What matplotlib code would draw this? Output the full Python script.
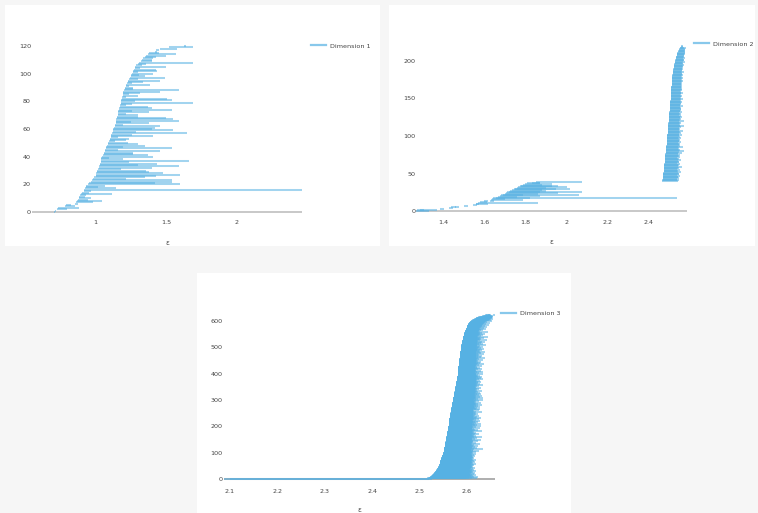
import matplotlib
matplotlib.use('Agg')
import matplotlib.pyplot as plt
from matplotlib.patches import Rectangle
from matplotlib.lines import Line2D

# ---------------- data ----------------
dim1_birth = [0.710, 0.715, 0.735, 0.740, 0.790, 0.795, 0.860, 0.865, 0.870, 0.880,
              0.885, 0.890, 0.895, 0.900, 0.905, 0.920, 0.925, 0.930, 0.935, 0.940,
              0.950, 0.960, 0.970, 0.980, 0.985, 0.990, 1.005, 1.010, 1.010, 1.015,
              1.015, 1.020, 1.030, 1.030, 1.035, 1.035, 1.040, 1.040, 1.045, 1.045,
              1.050, 1.055, 1.060, 1.060, 1.070, 1.070, 1.075, 1.080, 1.085, 1.090,
              1.095, 1.100, 1.105, 1.105, 1.110, 1.110, 1.115, 1.120, 1.125, 1.130,
              1.130, 1.135, 1.140, 1.140, 1.145, 1.145, 1.150, 1.150, 1.155, 1.155,
              1.160, 1.160, 1.165, 1.165, 1.170, 1.170, 1.175, 1.175, 1.180, 1.180,
              1.185, 1.185, 1.190, 1.190, 1.195, 1.195, 1.200, 1.200, 1.205, 1.210,
              1.210, 1.215, 1.220, 1.225, 1.230, 1.235, 1.240, 1.245, 1.250, 1.255,
              1.260, 1.265, 1.270, 1.275, 1.280, 1.285, 1.290, 1.300, 1.310, 1.325,
              1.330, 1.340, 1.355, 1.360, 1.375, 1.380, 1.420, 1.430, 1.460, 1.520,
              1.630]
dim1_death = [0.720, 0.725, 0.800, 0.885, 0.860, 0.830, 0.880, 0.985, 1.050, 0.950,
              0.970, 0.930, 0.940, 1.120, 0.960, 0.970, 2.460, 1.150, 1.020, 1.070,
              1.600, 1.420, 1.540, 1.540, 1.220, 1.350, 1.430, 1.600, 1.480, 1.380,
              1.360, 1.180, 1.400, 1.590, 1.300, 1.440, 1.240, 1.660, 1.200, 1.100,
              1.410, 1.370, 1.270, 1.270, 1.460, 1.160, 1.540, 1.200, 1.350, 1.300,
              1.230, 1.140, 1.220, 1.240, 1.160, 1.410, 1.260, 1.645, 1.290, 1.550,
              1.400, 1.420, 1.460, 1.200, 1.380, 1.250, 1.590, 1.550, 1.500, 1.300,
              1.300, 1.220, 1.380, 1.260, 1.540, 1.400, 1.370, 1.220, 1.260, 1.690,
              1.280, 1.540, 1.510, 1.220, 1.300, 1.240, 1.320, 1.460, 1.590, 1.270,
              1.270, 1.240, 1.390, 1.260, 1.340, 1.460, 1.300, 1.490, 1.350, 1.310,
              1.410, 1.300, 1.440, 1.430, 1.320, 1.500, 1.330, 1.360, 1.690, 1.400,
              1.400, 1.410, 1.430, 1.500, 1.570, 1.450, 1.440, 1.450, 1.580, 1.690,
              1.640]

dim2_birth = [1.270, 1.275, 1.290, 1.385, 1.430, 1.440, 1.460, 1.500, 1.545, 1.560,
              1.560, 1.570, 1.580, 1.600, 1.630, 1.635, 1.640, 1.645, 1.655, 1.665,
              1.675, 1.680, 1.690, 1.700, 1.705, 1.710, 1.720, 1.725, 1.735, 1.745,
              1.750, 1.760, 1.765, 1.775, 1.780, 1.790, 1.800, 1.810, 1.830, 1.850,
              2.465, 2.465, 2.466, 2.466, 2.467, 2.467, 2.468, 2.468, 2.469, 2.469,
              2.470, 2.470, 2.471, 2.471, 2.472, 2.472, 2.472, 2.473, 2.473, 2.474,
              2.474, 2.474, 2.475, 2.475, 2.476, 2.476, 2.476, 2.477, 2.477, 2.478,
              2.478, 2.478, 2.479, 2.479, 2.480, 2.480, 2.480, 2.481, 2.481, 2.482,
              2.482, 2.482, 2.483, 2.483, 2.483, 2.484, 2.484, 2.484, 2.485, 2.485,
              2.485, 2.486, 2.486, 2.486, 2.487, 2.487, 2.487, 2.488, 2.488, 2.488,
              2.489, 2.489, 2.489, 2.490, 2.490, 2.490, 2.491, 2.491, 2.491, 2.492,
              2.492, 2.492, 2.493, 2.493, 2.493, 2.494, 2.494, 2.494, 2.495, 2.495,
              2.495, 2.496, 2.496, 2.496, 2.497, 2.497, 2.497, 2.498, 2.498, 2.498,
              2.499, 2.499, 2.499, 2.500, 2.500, 2.500, 2.501, 2.501, 2.501, 2.502,
              2.502, 2.502, 2.503, 2.503, 2.503, 2.504, 2.504, 2.504, 2.505, 2.505,
              2.505, 2.505, 2.506, 2.506, 2.506, 2.507, 2.507, 2.507, 2.507, 2.508,
              2.508, 2.508, 2.508, 2.509, 2.509, 2.509, 2.509, 2.510, 2.510, 2.510,
              2.510, 2.511, 2.511, 2.511, 2.512, 2.512, 2.512, 2.513, 2.513, 2.513,
              2.514, 2.514, 2.515, 2.515, 2.516, 2.516, 2.517, 2.517, 2.518, 2.518,
              2.519, 2.519, 2.520, 2.520, 2.521, 2.522, 2.523, 2.524, 2.525, 2.526,
              2.527, 2.528, 2.529, 2.530, 2.531, 2.532, 2.533, 2.534, 2.535, 2.536,
              2.537, 2.538, 2.540, 2.542, 2.544, 2.546, 2.548, 2.550, 2.552, 2.554,
              2.556]
dim2_death = [1.330, 1.370, 1.310, 1.405, 1.450, 1.465, 1.480, 1.520, 1.565, 1.575,
              1.620, 1.860, 1.615, 1.620, 1.650, 1.790, 1.700, 2.535, 1.820, 1.760,
              1.870, 1.790, 2.060, 1.860, 1.960, 1.870, 2.075, 1.900, 1.880, 1.950,
              2.015, 1.900, 2.000, 1.930, 1.960, 1.880, 1.930, 1.870, 1.870, 2.075,
              2.540, 2.538, 2.545, 2.536, 2.548, 2.541, 2.539, 2.550, 2.537, 2.544,
              2.546, 2.540, 2.553, 2.538, 2.543, 2.549, 2.536, 2.547, 2.541, 2.560,
              2.539, 2.545, 2.542, 2.551, 2.537, 2.548, 2.544, 2.540, 2.556, 2.543,
              2.547, 2.538, 2.552, 2.545, 2.541, 2.549, 2.543, 2.558, 2.540, 2.546,
              2.568, 2.544, 2.550, 2.541, 2.547, 2.565, 2.543, 2.549, 2.545, 2.552,
              2.546, 2.542, 2.555, 2.548, 2.544, 2.551, 2.547, 2.543, 2.557, 2.549,
              2.545, 2.562, 2.548, 2.544, 2.553, 2.546, 2.550, 2.566, 2.547, 2.552,
              2.548, 2.545, 2.556, 2.549, 2.568, 2.551, 2.547, 2.554, 2.550, 2.546,
              2.569, 2.552, 2.548, 2.555, 2.550, 2.558, 2.549, 2.553, 2.547, 2.556,
              2.551, 2.548, 2.560, 2.552, 2.549, 2.557, 2.553, 2.550, 2.555, 2.551,
              2.563, 2.552, 2.549, 2.556, 2.553, 2.559, 2.551, 2.554, 2.550, 2.565,
              2.553, 2.550, 2.557, 2.554, 2.561, 2.552, 2.556, 2.553, 2.567, 2.555,
              2.552, 2.558, 2.554, 2.560, 2.556, 2.553, 2.562, 2.555, 2.559, 2.557,
              2.554, 2.561, 2.556, 2.564, 2.558, 2.555, 2.560, 2.557, 2.563, 2.559,
              2.556, 2.566, 2.558, 2.562, 2.560, 2.557, 2.568, 2.561, 2.559, 2.565,
              2.562, 2.560, 2.567, 2.563, 2.561, 2.570, 2.564, 2.562, 2.566, 2.575,
              2.565, 2.568, 2.571, 2.566, 2.573, 2.569, 2.567, 2.572, 2.570, 2.574,
              2.571, 2.576, 2.573, 2.575, 2.572, 2.577, 2.574, 2.580, 2.570, 2.565,
              2.566]

dim3_birth = [
    2.088, 2.100,
    2.516, 2.518, 2.519, 2.520, 2.521, 2.522, 2.523, 2.524,
    2.525, 2.526, 2.526, 2.527, 2.527, 2.528, 2.528, 2.529, 2.529, 2.530, 2.530, 2.531, 2.531, 2.532, 2.532,
    2.533, 2.533, 2.533, 2.534, 2.534, 2.534, 2.535, 2.535, 2.535, 2.536, 2.536, 2.536, 2.537,
    2.537, 2.537, 2.538, 2.538, 2.538, 2.539, 2.539, 2.539, 2.540, 2.540, 2.540, 2.540,
    2.541, 2.541, 2.541, 2.541, 2.541, 2.542, 2.542, 2.542, 2.542, 2.542,
    2.543, 2.543, 2.543, 2.543, 2.543, 2.544, 2.544, 2.544, 2.544, 2.544,
    2.545, 2.545, 2.545, 2.545, 2.545, 2.546, 2.546, 2.546, 2.546, 2.546,
    2.547, 2.547, 2.547, 2.547, 2.547, 2.548, 2.548, 2.548, 2.548, 2.548,
    2.549, 2.549, 2.549, 2.549, 2.549, 2.550, 2.550, 2.550, 2.550, 2.550,
    2.551, 2.551, 2.551, 2.551, 2.551, 2.551, 2.551, 2.551, 2.551, 2.551,
    2.552, 2.552, 2.552, 2.552, 2.552, 2.552, 2.552, 2.552, 2.552, 2.552,
    2.553, 2.553, 2.553, 2.553, 2.553, 2.553, 2.553, 2.553, 2.553, 2.553,
    2.554, 2.554, 2.554, 2.554, 2.554, 2.554, 2.554, 2.554, 2.554, 2.554,
    2.555, 2.555, 2.555, 2.555, 2.555, 2.555, 2.555, 2.555, 2.555, 2.555,
    2.556, 2.556, 2.556, 2.556, 2.556, 2.556, 2.556, 2.556, 2.556, 2.556,
    2.557, 2.557, 2.557, 2.557, 2.557, 2.557, 2.557, 2.557, 2.557, 2.557,
    2.558, 2.558, 2.558, 2.558, 2.558, 2.558, 2.558, 2.558, 2.558, 2.558,
    2.559, 2.559, 2.559, 2.559, 2.559, 2.559, 2.559, 2.559, 2.559, 2.559,
    2.560, 2.560, 2.560, 2.560, 2.560, 2.560, 2.560, 2.560, 2.560, 2.560,
    2.561, 2.561, 2.561, 2.561, 2.561, 2.561, 2.561, 2.561, 2.561, 2.561,
    2.562, 2.562, 2.562, 2.562, 2.562, 2.562, 2.562, 2.562, 2.562, 2.562,
    2.563, 2.563, 2.563, 2.563, 2.563, 2.563, 2.563, 2.563, 2.563, 2.563,
    2.564, 2.564, 2.564, 2.564, 2.564, 2.564, 2.564, 2.564, 2.564, 2.564,
    2.565, 2.565, 2.565, 2.565, 2.565, 2.565, 2.565, 2.565, 2.565, 2.565,
    2.566, 2.566, 2.566, 2.566, 2.566, 2.566, 2.566, 2.566, 2.566, 2.566,
    2.567, 2.567, 2.567, 2.567, 2.567, 2.567, 2.567, 2.567, 2.567, 2.567,
    2.568, 2.568, 2.568, 2.568, 2.568, 2.568, 2.568, 2.568, 2.568, 2.568,
    2.569, 2.569, 2.569, 2.569, 2.569, 2.569, 2.569, 2.569, 2.569, 2.569,
    2.570, 2.570, 2.570, 2.570, 2.570, 2.570, 2.570, 2.570, 2.570, 2.570,
    2.571, 2.571, 2.571, 2.571, 2.571, 2.571, 2.571, 2.571, 2.571, 2.571,
    2.572, 2.572, 2.572, 2.572, 2.572, 2.572, 2.572, 2.572, 2.572, 2.572,
    2.573, 2.573, 2.573, 2.573, 2.573, 2.573, 2.573, 2.573, 2.573, 2.573,
    2.574, 2.574, 2.574, 2.574, 2.574, 2.574, 2.574, 2.574, 2.574, 2.574,
    2.575, 2.575, 2.575, 2.575, 2.575, 2.575, 2.575, 2.575, 2.575, 2.575,
    2.576, 2.576, 2.576, 2.576, 2.576, 2.576, 2.576, 2.576, 2.576, 2.576,
    2.577, 2.577, 2.577, 2.577, 2.577, 2.577, 2.577, 2.577, 2.577, 2.577,
    2.578, 2.578, 2.578, 2.578, 2.578, 2.578, 2.578, 2.578, 2.578, 2.578,
    2.579, 2.579, 2.579, 2.579, 2.579, 2.579, 2.579, 2.579, 2.579, 2.579,
    2.580, 2.580, 2.580, 2.580, 2.580, 2.580, 2.580, 2.580, 2.580, 2.580,
    2.581, 2.581, 2.581, 2.581, 2.581, 2.581, 2.581, 2.581, 2.581, 2.581, 2.581, 2.581, 2.581, 2.581,
    2.582, 2.582, 2.582, 2.582, 2.582, 2.582, 2.582, 2.582, 2.582, 2.582, 2.582, 2.582, 2.582, 2.582,
    2.583, 2.583, 2.583, 2.583, 2.583, 2.583, 2.583, 2.583, 2.583, 2.583, 2.583, 2.583, 2.583, 2.583,
    2.584, 2.584, 2.584, 2.584, 2.584, 2.584, 2.584, 2.584, 2.584, 2.584, 2.584, 2.584, 2.584, 2.584,
    2.585, 2.585, 2.585, 2.585, 2.585, 2.585, 2.585, 2.585, 2.585, 2.585, 2.585, 2.585, 2.585, 2.585,
    2.586, 2.586, 2.586, 2.586, 2.586, 2.586, 2.586, 2.586, 2.586, 2.586, 2.586, 2.586, 2.586, 2.586, 2.586,
    2.587, 2.587, 2.587, 2.587, 2.587, 2.587, 2.587, 2.587, 2.587, 2.587, 2.587, 2.587, 2.587, 2.587, 2.587,
    2.588, 2.588, 2.588, 2.588, 2.588, 2.588, 2.588, 2.588, 2.588,
    2.589, 2.589, 2.589, 2.589, 2.589, 2.589, 2.589, 2.589, 2.589,
    2.590, 2.590, 2.590, 2.590, 2.590, 2.590, 2.590, 2.590,
    2.591, 2.591, 2.591, 2.591, 2.591, 2.591, 2.591, 2.591,
    2.592, 2.592, 2.592, 2.592, 2.592, 2.592, 2.592, 2.592,
    2.593, 2.593, 2.593, 2.593, 2.593, 2.593, 2.593, 2.593,
    2.594, 2.594, 2.594, 2.594, 2.594, 2.595, 2.595, 2.595, 2.595, 2.595,
    2.596, 2.596, 2.596, 2.596, 2.597, 2.597, 2.597, 2.597, 2.598, 2.598, 2.598, 2.598,
    2.599, 2.599, 2.599, 2.599, 2.600, 2.600, 2.600, 2.600,
    2.601, 2.601, 2.601, 2.602, 2.602, 2.602, 2.603, 2.603, 2.603, 2.604, 2.604, 2.604,
    2.605, 2.605, 2.606, 2.606, 2.607, 2.607, 2.608, 2.608,
    2.609, 2.610, 2.611, 2.612, 2.613, 2.614, 2.615, 2.616, 2.617, 2.618, 2.619, 2.620,
    2.621, 2.622, 2.624, 2.626, 2.628, 2.630, 2.632, 2.634, 2.636, 2.638, 2.640, 2.645, 2.655]

dim3_death = [
    2.527, 2.520,
    2.598, 2.622, 2.605, 2.610, 2.600, 2.615, 2.603, 2.623, 2.608, 2.601, 2.612, 2.604,
    2.618, 2.606, 2.602, 2.611, 2.599, 2.607, 2.614, 2.603, 2.609, 2.605, 2.616,
    2.604, 2.610, 2.601, 2.613, 2.606, 2.619, 2.603, 2.608, 2.611, 2.605, 2.602, 2.615, 2.607,
    2.604, 2.612, 2.609, 2.606, 2.617, 2.603, 2.610, 2.605, 2.613, 2.608, 2.604, 2.611,
    2.607, 2.603, 2.614, 2.609, 2.605, 2.612, 2.606, 2.618, 2.604, 2.610, 2.608, 2.613, 2.605,
    2.609, 2.616, 2.606, 2.611, 2.604, 2.608, 2.614, 2.607, 2.612, 2.605, 2.610, 2.620,
    2.606, 2.611, 2.608, 2.604, 2.613, 2.609, 2.615, 2.606, 2.610, 2.607, 2.612, 2.605, 2.617,
    2.609, 2.611, 2.606, 2.614, 2.608, 2.610, 2.607, 2.619, 2.609, 2.612, 2.606, 2.611,
    2.606, 2.611, 2.604, 2.609, 2.618, 2.607, 2.612, 2.605, 2.626, 2.608, 2.606, 2.613, 2.609,
    2.633, 2.607, 2.614, 2.605, 2.610, 2.621, 2.608, 2.611, 2.606, 2.616, 2.609, 2.607,
    2.612, 2.608, 2.623, 2.606, 2.610, 2.615, 2.607, 2.609, 2.628, 2.608, 2.611, 2.606, 2.619,
    2.609, 2.607, 2.613, 2.610, 2.608, 2.624, 2.607, 2.612, 2.609, 2.630, 2.608, 2.610,
    2.607, 2.617, 2.609, 2.611, 2.608, 2.622, 2.610, 2.607, 2.614, 2.609, 2.631, 2.608, 2.612,
    2.610, 2.618, 2.607, 2.609, 2.615, 2.608, 2.625, 2.610, 2.609, 2.616, 2.607, 2.612,
    2.609, 2.620, 2.608, 2.611, 2.614, 2.609, 2.632, 2.608, 2.612, 2.610, 2.617, 2.609, 2.623,
    2.608, 2.611, 2.609, 2.615, 2.610, 2.608, 2.627, 2.611, 2.609, 2.619, 2.610, 2.613,
    2.610, 2.630, 2.611, 2.609, 2.616, 2.610, 2.622, 2.611, 2.609, 2.614, 2.629, 2.610, 2.618,
    2.611, 2.609, 2.624, 2.612, 2.610, 2.616, 2.611, 2.627, 2.610, 2.613, 2.611, 2.620,
    2.611, 2.615, 2.610, 2.625, 2.612, 2.611, 2.618, 2.610, 2.630, 2.612, 2.611, 2.621, 2.613,
    2.610, 2.614, 2.626, 2.611, 2.617, 2.612, 2.610, 2.623, 2.613, 2.611, 2.619, 2.612,
    2.611, 2.616, 2.612, 2.631, 2.613, 2.611, 2.620, 2.612, 2.615, 2.613, 2.611, 2.625, 2.613,
    2.612, 2.618, 2.611, 2.628, 2.613, 2.612, 2.616, 2.621, 2.612, 2.614, 2.627, 2.615,
    2.612, 2.619, 2.613, 2.623, 2.612, 2.615, 2.632, 2.613, 2.618, 2.612, 2.616, 2.624, 2.613,
    2.617, 2.612, 2.630, 2.614, 2.613, 2.620, 2.615, 2.612, 2.626, 2.616, 2.613, 2.633,
    2.613, 2.618, 2.612, 2.624, 2.614, 2.613, 2.634, 2.616, 2.613, 2.620, 2.614, 2.627, 2.613,
    2.617, 2.631, 2.614, 2.619, 2.613, 2.625, 2.616, 2.614, 2.629, 2.615, 2.621, 2.614,
    2.617, 2.615, 2.628, 2.614, 2.620, 2.615, 2.624, 2.616, 2.614, 2.622, 2.615, 2.631, 2.616,
    2.614, 2.619, 2.616, 2.626, 2.615, 2.621, 2.616, 2.618, 2.615, 2.629, 2.617, 2.615,
    2.619, 2.616, 2.625, 2.617, 2.615, 2.622, 2.617, 2.633, 2.618, 2.616, 2.621, 2.617, 2.627,
    2.618, 2.616, 2.623, 2.617, 2.630, 2.618, 2.624, 2.617, 2.616, 2.628, 2.619, 2.617,
    2.622, 2.618, 2.616, 2.634, 2.619, 2.617, 2.626, 2.618, 2.616, 2.629, 2.619, 2.617, 2.623,
    2.618, 2.632, 2.617, 2.621, 2.619, 2.627, 2.617, 2.624, 2.619, 2.633, 2.620, 2.618,
    2.617, 2.615, 2.626, 2.616, 2.614, 2.621, 2.615, 2.634, 2.616, 2.614, 2.620, 2.616, 2.629,
    2.615, 2.618, 2.616, 2.624, 2.615, 2.632, 2.617, 2.616, 2.622, 2.615, 2.628, 2.617,
    2.616, 2.621, 2.617, 2.631, 2.616, 2.619, 2.617, 2.625, 2.616, 2.618, 2.636, 2.617, 2.622,
    2.616, 2.627, 2.618, 2.617, 2.623, 2.616, 2.630, 2.618, 2.617, 2.624, 2.619, 2.617,
    2.622, 2.618, 2.633, 2.617, 2.621, 2.618, 2.626, 2.617, 2.619, 2.637, 2.618, 2.623, 2.617,
    2.629, 2.619, 2.618, 2.624, 2.617, 2.632, 2.619, 2.618, 2.626, 2.620, 2.618, 2.635,
    2.619, 2.623, 2.618, 2.630, 2.620, 2.619, 2.627, 2.618, 2.638, 2.620, 2.619, 2.625, 2.618,
    2.631, 2.621, 2.619, 2.628, 2.620, 2.618, 2.636, 2.621, 2.619, 2.629, 2.620, 2.623,
    2.620, 2.625, 2.619, 2.633, 2.621, 2.620, 2.628, 2.619, 2.640, 2.621, 2.620, 2.626, 2.619,
    2.634, 2.622, 2.620, 2.629, 2.621, 2.619, 2.637, 2.622, 2.620, 2.631, 2.621, 2.624,
    2.621, 2.627, 2.620, 2.642, 2.622, 2.621, 2.630, 2.620, 2.625, 2.622, 2.636, 2.621, 2.628,
    2.622, 2.620, 2.644, 2.623, 2.621, 2.629, 2.622, 2.626, 2.621, 2.633, 2.623, 2.622,
    2.627, 2.623, 2.639, 2.622, 2.625, 2.623, 2.631, 2.622, 2.628, 2.624, 2.645, 2.623, 2.626,
    2.624, 2.634, 2.623, 2.629, 2.625, 2.624, 2.641, 2.625, 2.627, 2.624, 2.636, 2.626,
    2.625, 2.630, 2.627, 2.643, 2.626, 2.632, 2.628, 2.638, 2.627, 2.631, 2.629, 2.646, 2.630,
    2.634, 2.631, 2.640, 2.632, 2.636, 2.633, 2.648, 2.635, 2.638, 2.636, 2.642, 2.639,
    2.641, 2.652, 2.643, 2.646, 2.644, 2.650, 2.645, 2.648, 2.646, 2.654, 2.648, 2.650, 2.649,
    2.653, 2.651, 2.652, 2.653, 2.655, 2.654, 2.652, 2.650, 2.649, 2.648, 2.650, 2.660]

x_ticks_1 = [1, 1.5, 2]
x_ticks_2 = [1.4, 1.6, 1.8, 2, 2.2, 2.4]
x_ticks_3 = [2.1, 2.2, 2.3, 2.4, 2.5, 2.6]
y_ticks_1 = [0, 20, 40, 60, 80, 100, 120]
y_ticks_2 = [0, 50, 100, 150, 200]
y_ticks_3 = [0, 100, 200, 300, 400, 500, 600]
labels = ['Dimension 1', 'Dimension 2', 'Dimension 3']

# ---------------- layout ----------------
W, H = 758, 513
BAR = '#56b1e3'
fig = plt.figure(figsize=(W / 100, H / 100), dpi=100, facecolor='#f6f6f6')

for (x0, y0, x1, y1) in [(5, 5, 380, 246), (389, 5, 755, 246), (197, 273, 571, 513)]:
    fig.add_artist(Rectangle((x0 / W, 1 - y1 / H), (x1 - x0) / W, (y1 - y0) / H,
                             transform=fig.transFigure, facecolor='white',
                             edgecolor='none', zorder=0))


def lin(px, a, pa, b, pb):
    return a + (px - pa) * (b - a) / (pb - pa)


def fmt(v):
    s = ('%.1f' % v)
    return s[:-2] if s.endswith('.0') else s


panels = [
    dict(birth=dim1_birth, death=dim1_death, box=(32, 30, 302, 214),
         xa=(1.0, 95, 2.0, 237), ya=(0, 212, 120, 46), xt=x_ticks_1, yt=y_ticks_1,
         leg=(311, 46), title_y=243, xpad=4.5, ypad=0.8, zc='#c4c4c4'),
    dict(birth=dim2_birth, death=dim2_death, box=(416, 30, 687, 213),
         xa=(1.4, 443, 2.4, 649), ya=(0, 211, 200, 61), xt=x_ticks_2, yt=y_ticks_2,
         leg=(694, 44), title_y=242, xpad=5.3, ypad=0.6, zc='#c4c4c4'),
    dict(birth=dim3_birth, death=dim3_death, box=(224, 297, 495, 481),
         xa=(2.1, 230, 2.6, 467), ya=(0, 479, 600, 321), xt=x_ticks_3, yt=y_ticks_3,
         leg=(501, 313), title_y=510, xpad=6.0, ypad=1.2, zc='#a8a8a8'),
]

for p, lab in zip(panels, labels):
    x0, y0, x1, y1 = p['box']
    ax = fig.add_axes([x0 / W, 1 - y1 / H, (x1 - x0) / W, (y1 - y0) / H])
    ax.set_facecolor('none')
    ax.set_xlim(lin(x0, *p['xa']), lin(x1, *p['xa']))
    ax.set_ylim(lin(y1, *p['ya']), lin(y0, *p['ya']))
    for s in ax.spines.values():
        s.set_visible(False)
    ax.axhline(0, color=p['zc'], lw=1.3, zorder=1)
    n = min(len(p['birth']), len(p['death']))
    ys = list(range(n))
    ax.hlines(ys, p['birth'][:n], p['death'][:n], colors=BAR, linewidths=1.45,
              alpha=0.55, zorder=2)
    ax.set_xticks(p['xt'])
    ax.set_xticklabels([fmt(v) for v in p['xt']])
    ax.set_yticks(p['yt'])
    ax.set_yticklabels([str(v) for v in p['yt']])
    ax.tick_params(axis='both', length=0, labelsize=4.6, labelcolor='#444444')
    ax.tick_params(axis='x', pad=p['xpad'])
    ax.tick_params(axis='y', pad=p['ypad'])
    fig.text(((x0 + x1) / 2) / W, 1 - p['title_y'] / H, 'ε', ha='center', va='center',
             fontsize=5, color='#444444')
    h = Line2D([], [], color=BAR, lw=1.6, alpha=0.7)
    lx, ly = p['leg']
    ax.legend([h], [lab], loc='center left', bbox_to_anchor=(lx / W, 1 - ly / H),
              bbox_transform=fig.transFigure, frameon=False, fontsize=4.6,
              handlelength=2.4, handletextpad=0.5, borderpad=0, borderaxespad=0,
              labelcolor='#444444')

fig.savefig('out.png', dpi=100, facecolor=fig.get_facecolor())
